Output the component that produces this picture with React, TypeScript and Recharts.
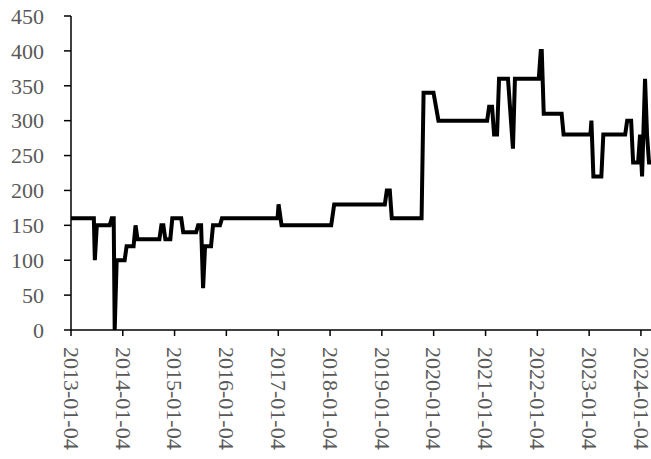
import { LineChart, Line, XAxis, YAxis } from 'recharts'

// Change points of the weekly series (date, value)
const dates = [
  '2013-01-04', '2013-06-14', '2013-06-21', '2013-07-05', '2013-10-04', '2013-10-18', '2013-11-01',
  '2013-11-08', '2013-11-22', '2014-01-17', '2014-01-31', '2014-03-21', '2014-04-04', '2014-04-18',
  '2014-09-19', '2014-10-03', '2014-10-17', '2014-10-31', '2014-12-05', '2014-12-19', '2015-02-20',
  '2015-03-06', '2015-06-05', '2015-06-19', '2015-07-10', '2015-07-24', '2015-08-07', '2015-09-18',
  '2015-10-02', '2015-11-20', '2015-12-04', '2016-12-30', '2017-01-06', '2017-01-27', '2018-01-12',
  '2018-02-02', '2019-01-25', '2019-02-08', '2019-03-01', '2019-03-15', '2019-10-11', '2019-10-25',
  '2020-01-03', '2020-02-07', '2021-01-15', '2021-01-29', '2021-02-19', '2021-03-05', '2021-03-26',
  '2021-04-09', '2021-06-11', '2021-06-25', '2021-07-16', '2021-07-30', '2022-01-14', '2022-01-28',
  '2022-02-04', '2022-02-18', '2022-06-24', '2022-07-08', '2023-01-13', '2023-01-20', '2023-02-03',
  '2023-03-31', '2023-04-14', '2023-09-15', '2023-09-29', '2023-10-27', '2023-11-10', '2023-12-15',
  '2023-12-29', '2024-01-12', '2024-02-02', '2024-02-16', '2024-03-01', '2024-03-15',
]
const values = [
  160, 160, 100, 150, 150, 160, 160,
  0, 100, 100, 120, 120, 150, 130,
  130, 150, 150, 130, 130, 160, 160,
  140, 140, 150, 150, 60, 120, 120,
  150, 150, 160, 160, 180, 150, 150,
  180, 180, 200, 200, 160, 160, 340,
  340, 300, 300, 320, 320, 280, 280,
  360, 360, 320, 260, 360, 360, 400,
  400, 310, 310, 280, 280, 300, 220,
  220, 280, 280, 300, 300, 240, 240,
  280, 220, 360, 280, 240, 240,
]
const tickDates = [
  '2013-01-04', '2014-01-04', '2015-01-04', '2016-01-04', '2017-01-04', '2018-01-04',
  '2019-01-04', '2020-01-04', '2021-01-04', '2022-01-04', '2023-01-04', '2024-01-04',
]
const yTicks = [0, 50, 100, 150, 200, 250, 300, 350, 400, 450]

const data = dates.map((d, i) => ({ t: Date.parse(d), v: values[i] }))
const xTicks = tickDates.map((d) => Date.parse(d))

const FONT = 'Liberation Serif'

function DateTick({ x, y, payload }: { x?: number; y?: number; payload?: { value: number } }) {
  const label = new Date(payload?.value ?? 0).toISOString().slice(0, 10)
  return (
    <g transform={`translate(${x},${y})`}>
      <text
        x={9}
        y={0}
        dy="0.33em"
        transform="rotate(90)"
        textAnchor="start"
        fill="#595959"
        fontSize={22}
        style={{ fontFamily: FONT }}
      >
        {label}
      </text>
    </g>
  )
}

export default function App() {
  return (
    <div style={{ position: 'absolute', left: 0, top: 0, background: '#fff', fontFamily: FONT }}>
      <LineChart width={651} height={459} data={data} margin={{ top: 16, right: 0, bottom: 0, left: 0 }}>
        <XAxis
          dataKey="t"
          type="number"
          scale="time"
          domain={[data[0].t, data[data.length - 1].t]}
          ticks={xTicks}
          tick={<DateTick />}
          tickSize={6}
          height={129}
          interval={0}
          axisLine={{ stroke: '#000', strokeWidth: 1.5 }}
          tickLine={{ stroke: '#000', strokeWidth: 1.5 }}
        />
        <YAxis
          domain={[0, 450]}
          ticks={yTicks}
          width={71}
          tickSize={7}
          tickMargin={20}
          interval={0}
          tick={{ fill: '#595959', fontSize: 22, fontFamily: FONT }}
          axisLine={{ stroke: '#000', strokeWidth: 1.5 }}
          tickLine={{ stroke: '#000', strokeWidth: 1.5 }}
        />
        <Line
          type="linear"
          dataKey="v"
          stroke="#000"
          strokeWidth={4}
          dot={false}
          isAnimationActive={false}
        />
      </LineChart>
    </div>
  )
}
